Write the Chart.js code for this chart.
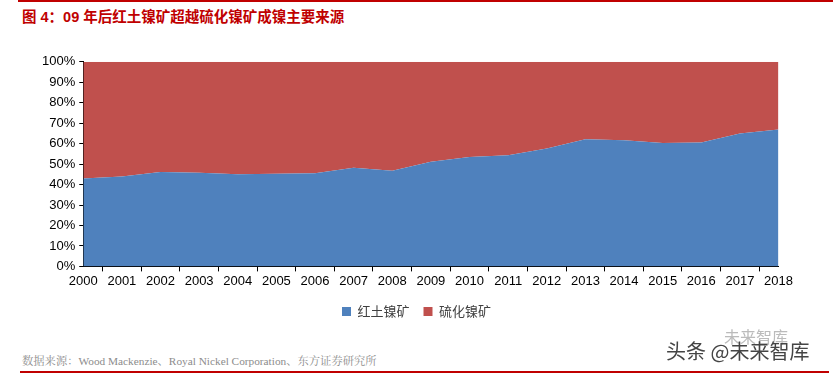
<!DOCTYPE html>
<html>
<head>
<meta charset="utf-8">
<script src="https://cdn.jsdelivr.net/npm/chart.js@4.4.1/dist/chart.umd.min.js"></script>
<style>
  body { margin: 0; width: 833px; height: 376px; background: #fff; position: relative; overflow: hidden; font-family: "Liberation Sans", "Noto Sans CJK SC", sans-serif; }
  #topline { position: absolute; left: 18px; right: 0; top: 0; height: 2px; background: #c00000; }
  #title { position: absolute; left: 22px; top: 5px; font-size: 14.5px; font-weight: bold; color: #c00000; font-family: "Liberation Sans", "Noto Sans CJK SC", sans-serif; }
  #box { position: absolute; left: 0; top: 50px; width: 795px; height: 278px; }
  #source { position: absolute; left: 22px; top: 352px; font-size: 11.3px; color: #8c8c8c; font-family: "Liberation Serif", "Noto Serif CJK SC", "Noto Sans CJK SC", serif; }
  #bottomline { position: absolute; left: 20px; right: 4px; top: 371px; height: 2px; background: #c00000; }
  #mark { position: absolute; left: 666px; top: 336px; font-size: 20px; color: #444; font-family: "Noto Sans CJK SC", sans-serif; }
  #mark2 { position: absolute; left: 724px; top: 324px; font-size: 16px; color: #bbb; font-family: "Noto Sans CJK SC", sans-serif; }
</style>
</head>
<body>
<div id="topline"></div>
<div id="title">图 4：09 年后红土镍矿超越硫化镍矿成镍主要来源</div>
<div id="box"><canvas id="nickelChart"></canvas></div>
<div id="source">数据来源：Wood Mackenzie、Royal Nickel Corporation、东方证券研究所</div>
<div id="mark2">未来智库</div>
<div id="mark">头条 @未来智库</div>
<div id="bottomline"></div>
<script>
// 年份
let years = ['2000', '2001', '2002', '2003', '2004', '2005', '2006', '2007', '2008', '2009',
             '2010', '2011', '2012', '2013', '2014', '2015', '2016', '2017', '2018'];
// 红土镍矿占比 (%)
let lateriteShare = [43.0, 43.9, 46.1, 45.8, 45.0, 45.3, 45.5, 48.2, 46.7, 51.1,
                     53.5, 54.3, 57.6, 62.1, 61.6, 60.3, 60.5, 64.9, 66.9];
// 硫化镍矿占比 (%)
let sulfideShare = [57.0, 56.1, 53.9, 54.2, 55.0, 54.7, 54.5, 51.8, 53.3, 48.9,
                    46.5, 45.7, 42.4, 37.9, 38.4, 39.7, 39.5, 35.1, 33.1];

let seriesNames = ['红土镍矿', '硫化镍矿'];
let seriesColors = ['#4f81bd', '#c0504d'];

let ctx = document.getElementById('nickelChart').getContext('2d');

let nickelChart = new Chart(ctx, {
    type: 'line',
    data: {
        labels: years,
        datasets: [{
            label: seriesNames[0],
            data: lateriteShare,
            backgroundColor: seriesColors[0],
            borderColor: seriesColors[0],
            borderWidth: 0,
            pointRadius: 0,
            fill: 'origin',
            tension: 0
        }, {
            label: seriesNames[1],
            data: sulfideShare,
            backgroundColor: seriesColors[1],
            borderColor: seriesColors[1],
            borderWidth: 0,
            pointRadius: 0,
            fill: '-1',
            tension: 0
        }]
    },
    options: {
        responsive: true,
        maintainAspectRatio: false,
        animation: false,
        layout: { padding: { left: 38, right: 0, top: 2, bottom: 0 } },
        plugins: {
            legend: {
                position: 'bottom',
                labels: {
                    boxWidth: 9,
                    boxHeight: 9,
                    padding: 14,
                    color: '#404040',
                    font: { size: 13, family: '"Noto Sans CJK SC", sans-serif' }
                }
            },
            tooltip: { enabled: false }
        },
        scales: {
            x: {
                offset: false,
                grid: { offset: true, drawOnChartArea: false, tickLength: 5, color: '#000' },
                border: { color: '#000' },
                ticks: { color: '#000', maxRotation: 0, autoSkip: false, padding: 2, font: { size: 13, family: '"Liberation Sans", sans-serif' } }
            },
            y: {
                stacked: true,
                min: 0,
                max: 100,
                grid: { drawOnChartArea: false, tickLength: 4, color: '#000' },
                border: { color: '#000' },
                ticks: {
                    stepSize: 10,
                    color: '#000',
                    padding: 4,
                    font: { size: 13, family: '"Liberation Sans", sans-serif' },
                    callback: function(v) { return v + '%'; }
                }
            }
        }
    }
});
</script>
</body>
</html>
